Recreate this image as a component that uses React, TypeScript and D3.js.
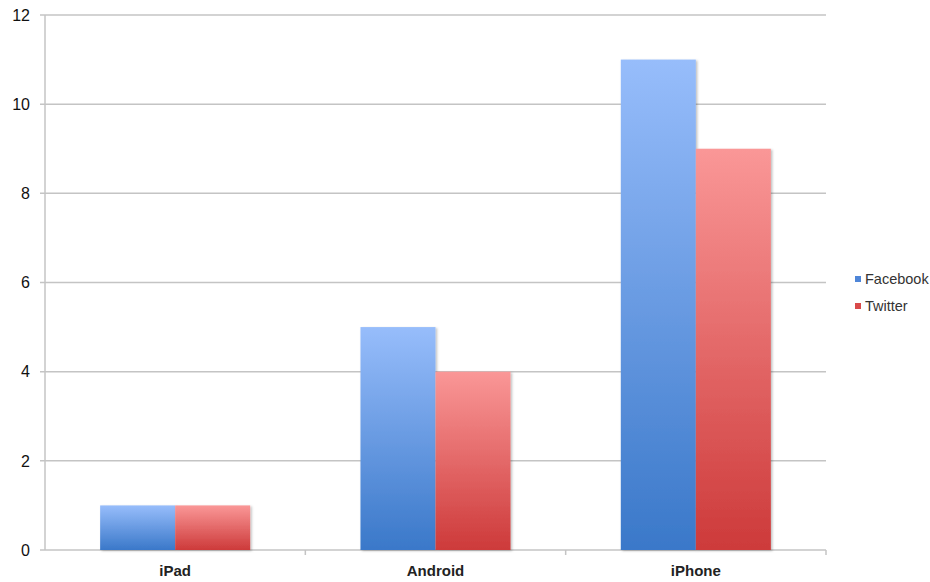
import React from "react";
import * as d3 from "d3";

const categories = ["iPad", "Android", "iPhone"];
const seriesNames = ["Facebook", "Twitter"];
const facebookValues = [1, 5, 11];
const twitterValues = [1, 4, 9];
const yTicks = [0, 2, 4, 6, 8, 10, 12];

const W = 930;
const H = 582;
const left = 45;
const right = 826;
const top = 15;
const bottom = 550;

const gradients = [
  { id: "gFb", top: "#97bdfb", bottom: "#3a78c9" },
  { id: "gTw", top: "#fa9797", bottom: "#cd3a3a" },
];
const legendColors = ["#4f86d8", "#d94a4a"];

export default function App() {
  const x = d3.scaleBand<string>().domain(categories).range([left, right]).paddingInner(0).paddingOuter(0);
  const x1 = d3
    .scaleBand<string>()
    .domain(seriesNames)
    .range([0, x.bandwidth()])
    .paddingOuter(0.735)
    .paddingInner(0);
  const y = d3.scaleLinear().domain([0, 12]).range([bottom, top]);
  const values = [facebookValues, twitterValues];
  const font = "'Liberation Sans', Arial, sans-serif";

  return (
    <svg width={W} height={H} style={{ position: "absolute", left: 0, top: 0, background: "#fff" }}>
      <defs>
        {gradients.map((g) => (
          <linearGradient key={g.id} id={g.id} x1="0" y1="0" x2="0" y2="1">
            <stop offset="0%" stopColor={g.top} />
            <stop offset="100%" stopColor={g.bottom} />
          </linearGradient>
        ))}
        <filter id="shadow" x="-10%" y="-10%" width="130%" height="130%">
          <feDropShadow dx="1.5" dy="1" stdDeviation="1.2" floodColor="#000" floodOpacity="0.25" />
        </filter>
      </defs>
      {yTicks.map((t) => (
        <g key={t}>
          <line x1={left - 5} x2={right} y1={y(t)} y2={y(t)} stroke="#c4c4c4" strokeWidth={1.5} />
          <text x={30} y={y(t)} dy="0.36em" textAnchor="end" fontFamily={font} fontSize={16} fill="#111">
            {t}
          </text>
        </g>
      ))}
      <line x1={left} x2={left} y1={top} y2={bottom} stroke="#c4c4c4" strokeWidth={1.5} />
      {categories.map((c) => (
        <line key={c} x1={x(c)! + x.bandwidth()} x2={x(c)! + x.bandwidth()} y1={bottom} y2={bottom + 5} stroke="#c4c4c4" strokeWidth={1.5} />
      ))}
      {categories.map((c, i) =>
        seriesNames.map((s, j) => {
          const v = values[j][i];
          return (
            <rect
              key={c + s}
              x={x(c)! + x1(s)!}
              y={y(v)}
              width={x1.bandwidth()}
              height={y(0) - y(v)}
              fill={`url(#${gradients[j].id})`}
              filter="url(#shadow)"
            />
          );
        })
      )}
      {categories.map((c) => (
        <text key={c} x={x(c)! + x.bandwidth() / 2} y={bottom + 26} textAnchor="middle" fontFamily={font} fontSize={15} fontWeight="bold" fill="#222">
          {c}
        </text>
      ))}
      {seriesNames.map((s, i) => (
        <g key={s} transform={`translate(855, ${279 + i * 27})`}>
          <rect x={0} y={-3} width={6} height={6} fill={legendColors[i]} />
          <text x={10} y={0} dy="0.36em" fontFamily={font} fontSize={14.5} fill="#333">
            {s}
          </text>
        </g>
      ))}
    </svg>
  );
}
